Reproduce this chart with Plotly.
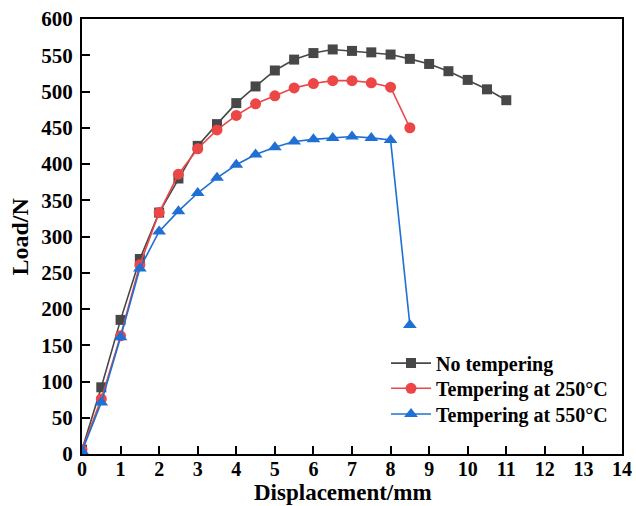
import plotly.graph_objects as go

# Load–displacement curves for three heat-treatment conditions
disp_none = [0, 0.5, 1, 1.5, 2, 2.5, 3, 3.5, 4, 4.5, 5, 5.5, 6, 6.5, 7, 7.5, 8, 8.5, 9, 9.5, 10, 10.5, 11]
load_none = [6, 92, 185, 269, 333, 380, 425, 455, 484, 507, 529, 544, 553, 558, 556, 554, 551, 545, 538, 528, 516, 503, 488]

disp_250 = [0, 0.5, 1, 1.5, 2, 2.5, 3, 3.5, 4, 4.5, 5, 5.5, 6, 6.5, 7, 7.5, 8, 8.5]
load_250 = [6, 76, 163, 261, 333, 386, 421, 447, 467, 483, 494, 505, 511, 515, 515, 512, 506, 450]

disp_550 = [0, 0.5, 1, 1.5, 2, 2.5, 3, 3.5, 4, 4.5, 5, 5.5, 6, 6.5, 7, 7.5, 8, 8.5]
load_550 = [4, 71, 161, 256, 307, 335, 360, 381, 399, 413, 423, 431, 434, 436, 438, 436, 433, 178]

x_ticks = list(range(0, 15))
y_ticks = list(range(0, 601, 50))

FONT = "Liberation Serif, Times New Roman, serif"
BLACK, RED, BLUE = "#474747", "#ec4646", "#1f6fd4"

fig = go.Figure()
fig.add_trace(go.Scatter(
    x=disp_none, y=load_none, mode="lines+markers", name="No tempering",
    line=dict(color=BLACK, width=1.6),
    marker=dict(symbol="square", size=10, color=BLACK),
    legend="legend",
))
fig.add_trace(go.Scatter(
    x=disp_250, y=load_250, mode="lines+markers", name="Tempering at 250°C",
    line=dict(color=RED, width=1.6),
    marker=dict(symbol="circle", size=11, color=RED),
    legend="legend2",
))
fig.add_trace(go.Scatter(
    x=disp_550, y=load_550, mode="lines+markers", name="Tempering at 550°C",
    line=dict(color=BLUE, width=1.6),
    marker=dict(symbol="triangle-up", size=12, color=BLUE),
    legend="legend3",
))

axis_common = dict(
    showgrid=False, zeroline=False, showline=True, linecolor="black", linewidth=2,
    mirror=True, ticks="inside", ticklen=8, tickwidth=1.6, tickcolor="black",
    automargin=False,
)

fig.update_xaxes(
    range=[0, 14], tickvals=x_ticks, ticktext=[str(v) for v in x_ticks],
    ticklabelstandoff=-4, tickfont=dict(family=FONT, size=20, color="black", weight="bold"),
    **axis_common,
)
fig.update_yaxes(
    range=[0, 600], tickvals=y_ticks, ticktext=[str(v) for v in y_ticks],
    ticklabelstandoff=3, tickfont=dict(family=FONT, size=21, color="black", weight="bold"),
    **axis_common,
)

title_font = dict(family=FONT, size=23, color="black", weight="bold")
fig.add_annotation(
    text="Displacement/mm", xref="paper", yref="paper", x=0.484, y=0,
    xanchor="center", yanchor="bottom", yshift=-52, borderpad=0,
    showarrow=False, font=title_font,
)
fig.add_annotation(
    text="Load/N", xref="paper", yref="paper", x=0, y=0.5, textangle=-90,
    xanchor="center", yanchor="middle", xshift=-63, showarrow=False,
    font=dict(family=FONT, size=24, color="black", weight="bold"),
)

legend_common = dict(
    x=0.563, xanchor="left", yanchor="middle",
    bgcolor="rgba(0,0,0,0)", borderwidth=0,
    font=dict(family=FONT, size=20, color="black", weight="bold"),
    itemwidth=40,
)

fig.update_layout(
    width=636, height=506,
    margin=dict(l=82, r=14, t=19, b=52),
    paper_bgcolor="white", plot_bgcolor="white",
    showlegend=True,
    legend=dict(y=0.209, **legend_common),
    legend2=dict(y=0.151, **legend_common),
    legend3=dict(y=0.092, **legend_common),
)

fig.write_html("out.html")
